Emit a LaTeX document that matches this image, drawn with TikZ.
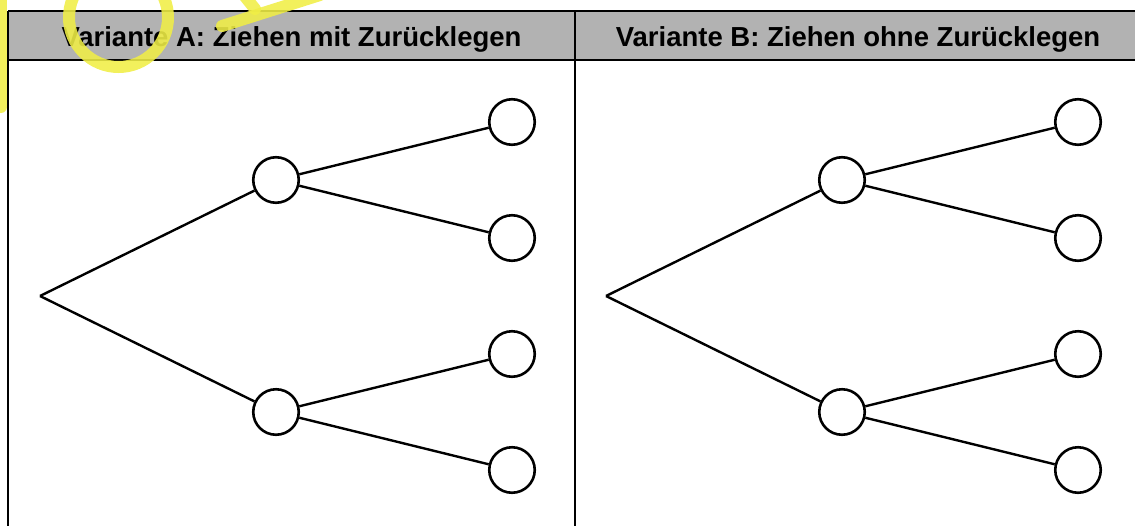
\documentclass[tikz,border=0pt]{standalone}
\usepackage{fontspec}
\setmainfont{Liberation Sans}
\usepackage{xcolor}
\usepackage{tikz}
\usetikzlibrary{positioning}

\definecolor{headgray}{gray}{0.70}
\definecolor{marker}{RGB}{240,238,70}

\begin{document}
\begin{tikzpicture}[x=1pt,y=-1pt, line width=2.4pt,
                   grow=right, level distance=236pt,
                   level 1/.style={sibling distance=232pt},
                   level 2/.style={sibling distance=116pt},
                   every child node/.style={circle,draw,line width=2.6pt,
                                            minimum size=45.5pt,inner sep=0pt},
                   head/.style={anchor=base,font=\fontsize{27.5}{30}\selectfont\bfseries}]
          \useasboundingbox (0,0) rectangle (1135,525);
          % table head and rules
          \fill[headgray] (8,11) rectangle (1141,60);
          \draw[line width=1.5pt] (8,11) -- (1141,11);
          \draw[line width=2.2pt] (8,60) -- (1141,60);
          \draw[line width=1.8pt] (8,11) -- (8,530);
          \draw[line width=1.3pt] (575,11) -- (575,530);
          \node[head] (headA) at (291.5,46.5) {Variante A: Ziehen mit Zurücklegen};
          \node[head] (headB) at (858,46.5) {Variante B: Ziehen ohne Zurücklegen};
          % left tree
          \node[coordinate] (rootA) at (40,296) {}
            child { node (a1) {}
              child { node (a11) {} }
              child { node (a12) {} }
            }
            child { node (a2) {}
              child { node (a21) {} }
              child { node (a22) {} }
            };
          % right tree
          \node[coordinate] (rootB) at (606,296) {}
            child { node (b1) {}
              child { node (b11) {} }
              child { node (b12) {} }
            }
            child { node (b2) {}
              child { node (b21) {} }
              child { node (b22) {} }
            };
          % marker strokes
          \begin{scope}[marker, opacity=0.88, line width=12pt, line cap=round]
            \draw (1,-10) -- (1,107);
            \draw (118.5,17.5) circle (49.5);
            \draw (222,26) -- (320,-5);
            \draw (243,-6) -- (255,9);
          \end{scope}
        \end{tikzpicture}
\end{document}
